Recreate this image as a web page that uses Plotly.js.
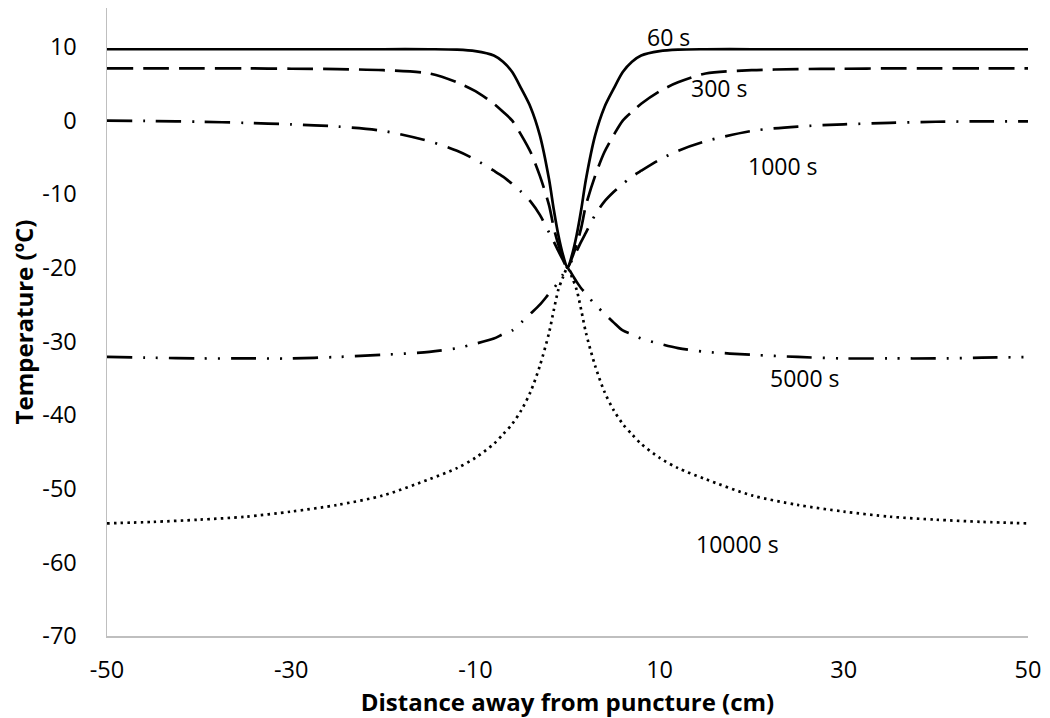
<!DOCTYPE html>
<html>
<head>
<meta charset="utf-8">
<script src="https://cdn.plot.ly/plotly-3.0.1.min.js"></script>
<style>html,body{margin:0;padding:0;background:#fff;}#chart{width:1050px;height:718px;}</style>
</head>
<body>
<div id="chart"></div>
<script>
// Distance from puncture (cm)
const distance = [-50,-45,-40,-35,-30,-25,-20,-15,-12,-10,-8,-7,-6,-5,-4,-3,-2,-1.5,-1,-0.5,0,
                  0.5,1,1.5,2,3,4,5,6,7,8,10,12,15,20,25,30,35,40,45,50];
// Temperature (°C) for each time
const t60 = [9.7,9.7,9.7,9.7,9.7,9.7,9.7,9.7,9.65,9.45,8.85,8.0,6.6,4.3,1.8,-2.0,-8.0,-12.0,-15.5,-18.2,-20,
             -18.2,-15.5,-12.0,-8.0,-2.0,1.8,4.3,6.6,8.0,8.85,9.45,9.65,9.7,9.7,9.7,9.7,9.7,9.7,9.7,9.7];
const t300 = [7.1,7.1,7.1,7.1,7.05,7.0,6.85,6.4,5.2,4.0,2.3,1.2,0.0,-2.0,-4.3,-7.5,-11.5,-14.5,-16.8,-18.6,-20,
              -18.6,-16.8,-14.5,-11.5,-7.5,-4.3,-2.0,0.0,1.2,2.3,4.0,5.2,6.4,6.85,7.0,7.05,7.1,7.1,7.1,7.1];
const t1000 = [0.0,-0.05,-0.15,-0.3,-0.5,-0.8,-1.4,-2.8,-4.1,-5.3,-6.8,-7.6,-8.6,-9.7,-11.0,-12.8,-15.2,-16.4,-17.7,-18.9,-20,
               -18.9,-17.7,-16.4,-15.2,-12.8,-11.0,-9.7,-8.6,-7.6,-6.8,-5.3,-4.1,-2.8,-1.4,-0.8,-0.5,-0.3,-0.15,-0.1,-0.1];
const t5000 = [-32.1,-32.2,-32.3,-32.3,-32.3,-32.1,-31.8,-31.4,-30.9,-30.3,-29.6,-29.0,-28.5,-27.4,-26.2,-25.0,-23.5,-22.8,-21.9,-20.9,-20,
               -20.9,-21.9,-22.8,-23.5,-25.0,-26.2,-27.4,-28.5,-29.0,-29.6,-30.3,-30.9,-31.4,-31.8,-32.1,-32.3,-32.3,-32.3,-32.2,-32.1];
const t10000 = [-54.7,-54.5,-54.2,-53.8,-53.1,-52.2,-50.9,-48.7,-47.2,-45.8,-43.9,-42.6,-41.2,-39.3,-36.8,-33.3,-28.8,-25.8,-23.0,-21.3,-20,
                -21.3,-23.0,-25.8,-28.8,-33.3,-36.8,-39.3,-41.2,-42.6,-43.9,-45.8,-47.2,-48.7,-50.9,-52.2,-53.1,-53.8,-54.2,-54.5,-54.7];

const seriesNames = ['60 s','300 s','1000 s','5000 s','10000 s'];
const seriesData = [t60, t300, t1000, t5000, t10000];
const dashes = ['solid','26px,10px','25px,11px,2px,11px','25px,11px,2px,11px,2px,11px','2.5px,4.2px'];

// label positions (x, y in data units)
const labelX = [11.0, 16.4, 23.4, 25.8, 18.5];
const labelY = [11.35, 4.4, -6.2, -35.0, -57.5];

const xTicks = [-50,-30,-10,10,30,50];
const yTicks = [-70,-60,-50,-40,-30,-20,-10,0,10];

const font = '"Open Sans", Lato, sans-serif';

const traces = seriesData.map((d,i) => ({
  x: distance, y: d, type: 'scatter', mode: 'lines', name: seriesNames[i],
  line: {color: '#000', width: 2.7, dash: dashes[i], shape: 'spline', smoothing: 0.8},
  hoverinfo: 'skip'
}));

const annotations = seriesNames.map((n,i) => ({
  x: labelX[i], y: labelY[i], xref: 'x', yref: 'y', text: n, showarrow: false,
  font: {family: font, size: 23, color: '#000'}
}));

const layout = {
  width: 1050, height: 718,
  margin: {l: 107, r: 22, t: 8, b: 82},
  paper_bgcolor: '#fff', plot_bgcolor: '#fff',
  showlegend: false,
  font: {family: font, size: 23, color: '#000'},
  xaxis: {
    range: [-50, 50], tickvals: xTicks, ticktext: xTicks.map(String),
    showgrid: false, zeroline: false, showline: true, linecolor: '#bfbfbf', linewidth: 1.5,
    ticks: '', ticklabelstandoff: 12, mirror: false,
    tickfont: {family: font, size: 23.5, color: '#000'},
    title: {text: 'Distance away from puncture (cm)', standoff: 5,
            font: {family: font, size: 24, color: '#000', weight: 'bold'}}
  },
  yaxis: {
    range: [-70, 15.3], tickvals: yTicks, ticktext: yTicks.map(String),
    showgrid: false, zeroline: false, showline: true, linecolor: '#bfbfbf', linewidth: 1.5,
    ticks: '', ticklabelstandoff: 24, mirror: false,
    tickfont: {family: font, size: 23.5, color: '#000'},
    title: {text: 'Temperature (ºC)', standoff: 2,
            font: {family: font, size: 24, color: '#000', weight: 'bold'}}
  },
  annotations: annotations
};

Plotly.newPlot('chart', traces, layout, {displayModeBar: false, staticPlot: true});
</script>
</body>
</html>
